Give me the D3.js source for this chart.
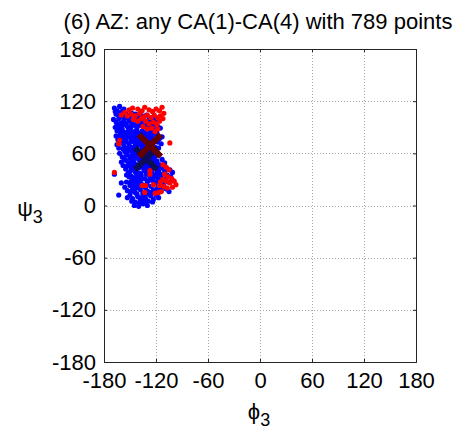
<!DOCTYPE html>
<html>
<head>
<meta charset="utf-8">
<script src="https://cdn.jsdelivr.net/npm/d3@7"></script>
<style>
  html, body { margin: 0; padding: 0; background: #fff; }
  svg { display: block; }
  text { font-family: "Liberation Sans", Arial, sans-serif; fill: #000; }
</style>
</head>
<body>
<svg id="chart" width="470" height="430"></svg>
<script>
// Chart text and tick values
const titleText = "(6) AZ: any CA(1)-CA(4) with 789 points";
const xTicks = [-180, -120, -60, 0, 60, 120, 180];
const yTicks = [-180, -120, -60, 0, 60, 120, 180];
const xLabel = { symbol: "\u03D5", sub: "3" };
const yLabel = { symbol: "\u03C8", sub: "3" };

// Torsion pairs [phi3, psi3] in degrees
const bluePoints = [
  [-168,112],[-165,109],[-162,114],[-166,105],[-160,108],[-157,111],[-163,104],[-155,106],[-159,103],[-152,104],[-148,106],[-144,105],[-140,104],[-136,103],[-131,104],[-167,108],
  [-169,99],[-166,96],[-163,100],[-160,95],[-157,98],[-154,101],[-151,97],[-148,94],[-146,99],[-142,96],[-139,101],[-137,95],[-133,97],[-130,94],[-127,96],[-124,101],[-121,99],[-161,102],[-165,94],[-155,94],[-150,102],[-144,100],[-135,100],[-128,99],
  [-167,90],[-165,86],[-162,92],[-159,88],[-156,84],[-153,91],[-150,87],[-147,93],[-145,85],[-142,89],[-139,92],[-136,86],[-133,91],[-130,88],[-127,85],[-124,92],[-121,87],[-118,91],[-160,85],[-157,93],[-149,90],[-141,84],[-135,93],[-129,92],[-126,88],[-115,89],[-119,84],[-163,88],[-152,86],[-144,92],
  [-166,80],[-164,76],[-161,83],[-158,79],[-155,75],[-152,82],[-149,78],[-146,74],[-143,81],[-140,77],[-137,83],[-134,79],[-131,75],[-128,82],[-125,78],[-122,74],[-119,80],[-116,77],[-160,74],[-156,81],[-150,84],[-147,80],[-141,75],[-138,79],[-133,84],[-130,80],[-127,76],[-123,83],[-120,77],[-154,78],[-145,77],[-135,76],[-113,79],[-162,78],
  [-165,70],[-163,66],[-160,72],[-157,68],[-154,64],[-151,71],[-148,67],[-145,73],[-142,65],[-139,70],[-136,66],[-133,72],[-130,68],[-127,64],[-124,71],[-121,67],[-118,73],[-114,71],[-155,73],[-149,74],[-144,69],[-138,73],[-132,65],[-129,71],[-126,67],[-123,74],[-119,65],[-158,65],[-146,65],[-141,72],[-135,69],[-152,67],[-117,66],
  [-162,60],[-159,56],[-156,62],[-153,58],[-150,54],[-147,61],[-144,57],[-141,63],[-138,55],[-135,60],[-132,56],[-129,62],[-126,58],[-123,54],[-120,61],[-157,55],[-151,63],[-148,57],[-142,59],[-137,62],[-134,54],[-130,59],[-125,63],[-121,56],[-145,55],[-139,58],[-154,60],[-128,55],[-118,60],
  [-160,50],[-158,46],[-155,52],[-152,48],[-149,44],[-146,51],[-143,47],[-140,53],[-137,45],[-134,50],[-131,46],[-128,52],[-125,48],[-122,44],[-119,51],[-116,47],[-113,53],[-110,49],[-154,45],[-148,53],[-145,47],[-141,44],[-138,50],[-133,53],[-130,49],[-126,45],[-123,51],[-120,47],[-117,44],[-150,49],[-136,47],[-111,45],
  [-168,36],[-155,42],[-152,38],[-149,34],[-146,41],[-143,37],[-140,43],[-137,35],[-134,40],[-131,36],[-128,42],[-125,38],[-122,34],[-119,41],[-116,37],[-113,43],[-110,39],[-107,35],[-104,41],[-101,38],[-154,35],[-148,43],[-144,39],[-139,37],[-135,44],[-132,41],[-127,35],[-124,43],[-120,36],[-117,40],[-114,35],[-108,42],[-150,39],[-141,34],
  [-160,26],[-154,27],[-151,33],[-148,29],[-145,25],[-142,32],[-139,28],[-136,24],[-133,31],[-130,27],[-127,33],[-124,29],[-121,25],[-118,32],[-115,28],[-112,24],[-109,31],[-106,27],[-103,33],[-101,29],[-150,26],[-146,32],[-140,25],[-137,30],[-131,24],[-128,29],[-123,32],[-119,27],[-113,30],[-144,28],
  [-163,12],[-156,21],[-153,17],[-150,23],[-147,19],[-144,15],[-141,22],[-138,18],[-135,14],[-132,20],[-129,16],[-126,22],[-123,18],[-120,14],[-117,21],[-114,17],[-111,23],[-108,19],[-105,16],[-149,16],[-143,20],[-137,22],[-131,17],[-125,15],[-119,19],[-113,21],[-146,22],
  [-153,9],[-150,12],[-147,8],[-144,4],[-141,10],[-138,6],[-135,12],[-132,8],[-129,5],[-126,11],[-123,7],[-120,12],[-117,9],[-148,5],[-142,13],[-136,9],[-130,13],[-124,4],[-139,3],[-133,4],
  [-145,0],[-140,-1],[-135,2],[-130,0]
];

const redPoints = [
  [-156,107],[-151,110],[-147,112],[-141,111],[-136,109],[-133,113],[-128,110],[-124,108],[-120,111],[-116,109],[-113,113],[-111,106],
  [-153,103],[-149,105],[-144,103],[-139,106],[-134,102],[-130,104],[-126,101],[-122,104],[-118,101],[-115,103],[-112,100],
  [-146,99],[-141,97],[-137,100],[-132,97],[-128,94],[-123,96],[-119,93],[-116,97],[-125,89],[-121,85],[-130,88],[-135,91],[-118,88],
  [-160,104],[-163,71],[-104,72],[-168,38],[-162,75],
  [-112,47],[-108,44],[-105,41],[-110,36],[-106,33],[-102,31],[-99,28],[-97,24],[-104,26],[-108,28],[-112,30],[-115,27],[-111,22],[-107,20],[-101,21],[-114,16],[-117,15],[-121,14],
  [-127,40],[-127,36],[-136,23],[-132,23],[-133,15],[-123,24],[-116,23]
];

// Group means drawn as large crosses
const blueMean = [-131.5, 54];
const redMean = [-127, 69];

const svg = d3.select("#chart");
const margin = { top: 49, right: 54, bottom: 68, left: 104 };
const W = 470 - margin.left - margin.right;
const H = 430 - margin.top - margin.bottom;

const x = d3.scaleLinear().domain([-180, 180]).range([margin.left, margin.left + W]);
const y = d3.scaleLinear().domain([-180, 180]).range([margin.top + H, margin.top]);

// dotted grid
const grid = svg.append("g").attr("stroke", "#a8a8a8").attr("stroke-width", 1).attr("stroke-dasharray", "1,2");
grid.selectAll("line.gx").data(xTicks.slice(1, -1)).join("line")
  .attr("x1", d => Math.round(x(d)) + 0.5).attr("x2", d => Math.round(x(d)) + 0.5)
  .attr("y1", margin.top).attr("y2", margin.top + H);
grid.selectAll("line.gy").data(yTicks.slice(1, -1)).join("line")
  .attr("y1", d => Math.round(y(d)) + 0.5).attr("y2", d => Math.round(y(d)) + 0.5)
  .attr("x1", margin.left).attr("x2", margin.left + W);

// scatter
const dots = svg.append("g");
dots.selectAll("circle.b").data(bluePoints).join("circle")
  .attr("class", "b").attr("cx", d => x(d[0])).attr("cy", d => y(d[1]))
  .attr("r", 2.6).attr("fill", "#0000ff");
dots.selectAll("circle.r").data(redPoints).join("circle")
  .attr("class", "r").attr("cx", d => x(d[0])).attr("cy", d => y(d[1]))
  .attr("r", 2.6).attr("fill", "#ff0000");

// mean crosses
function cross(g, p, color) {
  const cx = x(p[0]), cy = y(p[1]), s = 11;
  g.append("path")
    .attr("d", `M${cx - s},${cy - s}L${cx + s},${cy + s}M${cx - s},${cy + s}L${cx + s},${cy - s}`)
    .attr("stroke", color).attr("stroke-width", 6).attr("fill", "none");
}
const marks = svg.append("g");
cross(marks, blueMean, "#0c0c58");
cross(marks, redMean, "#660000");

// axes (plain hyphen for negative labels)
const fmt = d => String(d);
const xAxisB = d3.axisBottom(x).tickValues(xTicks).tickSize(-3).tickPadding(10).tickFormat(fmt);
const yAxisL = d3.axisLeft(y).tickValues(yTicks).tickSize(-3).tickPadding(8).tickFormat(fmt);
const gx = svg.append("g").attr("transform", `translate(0,${margin.top + H})`).call(xAxisB);
const gy = svg.append("g").attr("transform", `translate(${margin.left},0)`).call(yAxisL);
svg.append("g").attr("transform", `translate(0,${margin.top})`)
  .call(d3.axisTop(x).tickValues(xTicks).tickSize(-3).tickFormat(""));
svg.append("g").attr("transform", `translate(${margin.left + W},0)`)
  .call(d3.axisRight(y).tickValues(yTicks).tickSize(-3).tickFormat(""));
svg.selectAll(".domain").attr("stroke", "#262626");
svg.selectAll(".tick line").attr("stroke", "#262626");
gx.selectAll("text").style("font-size", "22px").attr("fill", "#000");
gy.selectAll("text").style("font-size", "22px").attr("fill", "#000");

// title
svg.append("text").attr("x", 258).attr("y", 29).attr("text-anchor", "middle")
  .style("font-size", "22px").text(titleText);

// axis labels with subscripts
const xl = svg.append("text").attr("x", 259).attr("y", 419).attr("text-anchor", "middle").style("font-size", "22px");
xl.append("tspan").text(xLabel.symbol);
xl.append("tspan").attr("dy", 7).style("font-size", "18px").text(xLabel.sub);

const yl = svg.append("text").attr("x", 30).attr("y", 216).attr("text-anchor", "middle").style("font-size", "22px");
yl.append("tspan").text(yLabel.symbol);
yl.append("tspan").attr("dy", 7).style("font-size", "18px").text(yLabel.sub);
</script>
</body>
</html>
